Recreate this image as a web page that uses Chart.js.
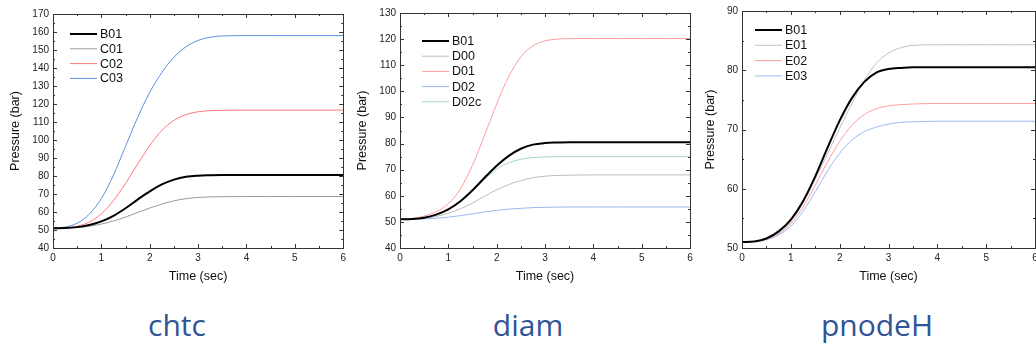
<!DOCTYPE html>
<html><head><meta charset="utf-8">
<script src="https://cdn.jsdelivr.net/npm/chart.js@4"></script>
<style>
html,body{margin:0;padding:0;background:#fff;overflow:hidden;width:1036px;height:348px;position:relative}
.box{position:absolute;top:0;height:290px}
.lbl{position:absolute;top:304px;font-family:"Liberation Sans Narrow","Open Sans",sans-serif;font-size:30px;color:#2f5597;transform:translateX(-50%);white-space:nowrap}
</style></head>
<body>
<div class="box" style="left:0;width:350px"><canvas id="c1" width="350" height="290"></canvas></div>
<div class="box" style="left:350px;width:350px"><canvas id="c2" width="350" height="290"></canvas></div>
<div class="box" style="left:700px;width:345px"><canvas id="c3" width="345" height="290"></canvas></div>
<div class="lbl" style="left:177px">chtc</div>
<div class="lbl" style="left:528px">diam</div>
<div class="lbl" style="left:877px">pnodeH</div>
<script>
// ---- data ----
const times = [0,0.25,0.5,0.75,1,1.25,1.5,1.75,2,2.25,2.5,2.75,3,3.25,3.5,4,4.5,5,5.5,6];
const B01 = [51,51.1,51.6,52.8,54.8,57.9,62.1,66.9,71.5,75.3,78.0,79.6,80.2,80.4,80.5,80.5,80.5,80.5,80.5,80.5];
// chtc
const C01 = [51,51.1,51.4,52.1,53.3,55.0,57.2,59.7,62.2,64.4,66.2,67.4,68.1,68.4,68.5,68.6,68.6,68.6,68.6,68.6];
const C02 = [51,51.2,52.1,54.4,59.0,66.4,75.9,86.6,96.9,105.3,110.9,114.1,115.7,116.3,116.5,116.6,116.6,116.6,116.6,116.6];
const C03 = [51,51.6,53.8,58.8,67.5,80.5,96.5,112.5,126.5,137.5,146.0,151.8,155.3,157.1,157.8,158,158,158,158,158];
// diam
const D00 = [51,51.1,51.4,52.1,53.3,55.0,57.2,59.8,62.3,64.3,65.8,66.9,67.5,67.8,67.9,68,68,68,68,68];
const D01 = [51,51.3,52.2,53.9,56.9,62.7,71.7,83.2,95.2,105.7,113.2,117.4,119.3,120.0,120.2,120.2,120.2,120.2,120.2,120.2];
const D02 = [51,51,51.1,51.4,51.8,52.4,53.1,53.8,54.4,54.9,55.2,55.45,55.6,55.65,55.7,55.7,55.7,55.7,55.7,55.7];
const D02c = [51,51.1,51.6,52.8,54.8,57.9,62.0,66.4,70.2,72.6,74.0,74.6,74.9,75.0,75.0,75,75,75,75,75];
// pnodeH
const E01 = [51,51.1,51.6,52.6,54.4,57.6,61.6,65.9,70.2,74.4,78.2,81.2,82.9,83.8,84.2,84.3,84.3,84.3,84.3,84.3];
const E02 = [51,51.1,51.5,52.4,54.1,56.9,60.6,64.5,68.0,70.7,72.5,73.5,74.0,74.2,74.3,74.4,74.4,74.4,74.4,74.4];
const E03 = [51,51.1,51.4,52.2,53.7,56.2,59.5,63.0,66.0,68.2,69.6,70.4,70.9,71.2,71.3,71.4,71.4,71.4,71.4,71.4];
const xTicks = [0,1,2,3,4,5,6];

const FONT = '"Liberation Sans", Arial, sans-serif';

function pts(arr){ return arr.map((v,i)=>({x:times[i], y:v})); }

const framePlugin = {
  id:'frame',
  afterDraw(chart){
    const ctx = chart.ctx, a = chart.chartArea;
    const xs = chart.scales.x, ys = chart.scales.y;
    ctx.save();
    ctx.strokeStyle = '#333';
    ctx.lineWidth = 1;
    ctx.strokeRect(Math.round(a.left)+0.5, Math.round(a.top)+0.5, Math.round(a.right-a.left), Math.round(a.bottom-a.top));
    ctx.beginPath();
    const ystep = 10, ymin = ys.min, ymax = ys.max;
    for(let v=ymin; v<=ymax+1e-6; v+=ystep/2){
      const y = Math.round(ys.getPixelForValue(v))+0.5;
      const major = Math.abs((v-ymin)%ystep) < 1e-6;
      const L = major ? 4 : 2;
      ctx.moveTo(a.left, y); ctx.lineTo(a.left+L, y);
      ctx.moveTo(a.right, y); ctx.lineTo(a.right-L, y);
    }
    for(let v=xs.min; v<=xs.max+1e-6; v+=0.5){
      const x = Math.round(xs.getPixelForValue(v))+0.5;
      const major = Math.abs(v-Math.round(v)) < 1e-6;
      const L = major ? 4 : 2;
      ctx.moveTo(x, a.bottom); ctx.lineTo(x, a.bottom-L);
      ctx.moveTo(x, a.top); ctx.lineTo(x, a.top+L);
    }
    ctx.stroke();
    ctx.restore();
  }
};

const legendPlugin = {
  id:'inlegend',
  afterDatasetsDraw(chart, args, opts){
    const ctx = chart.ctx;
    ctx.save();
    ctx.font = '12.5px ' + FONT;
    ctx.textBaseline = 'middle';
    ctx.textAlign = 'left';
    chart.data.datasets.forEach((ds,i)=>{
      const y = opts.y + i*opts.gap;
      ctx.strokeStyle = ds.borderColor;
      ctx.lineWidth = ds.borderWidth;
      ctx.beginPath();
      ctx.moveTo(opts.x, y); ctx.lineTo(opts.x+opts.len, y);
      ctx.stroke();
      ctx.fillStyle = '#111';
      ctx.fillText(ds.label, opts.x+opts.len+3, y+0.5);
    });
    ctx.restore();
  }
};

function makeChart(id, series, cfg){
  return new Chart(document.getElementById(id), {
    type:'line',
    data:{ datasets: series.map(s=>({
      label:s.label, data:pts(s.data), borderColor:s.color, borderWidth:s.w||1,
      pointRadius:0, cubicInterpolationMode:'monotone', fill:false
    }))},
    options:{
      responsive:false, animation:false, devicePixelRatio:1,
      layout:{padding:{top:cfg.top, right:cfg.right, left:0, bottom:0}},
      plugins:{legend:{display:false}, tooltip:{enabled:false},
        inlegend:{x:cfg.lx, y:cfg.ly, gap:cfg.lg, len:27}},
      scales:{
        x:{type:'linear', min:0, max:6,
          afterBuildTicks(s){ s.ticks = xTicks.map(v=>({value:v})); },
          grid:{display:false, drawTicks:false}, border:{display:false},
          ticks:{font:{family:FONT,size:10}, color:'#222', padding:4, maxRotation:0},
          title:{display:true, text:'Time (sec)', font:{family:FONT,size:12.5}, color:'#111', padding:{top:0,bottom:6}},
          afterFit(s){ s.height = 42; }
        },
        y:{min:cfg.ymin, max:cfg.ymax,
          ticks:{stepSize:10, font:{family:FONT,size:10}, color:'#222', padding:4},
          grid:{display:false, drawTicks:false}, border:{display:false},
          title:{display:true, text:'Pressure (bar)', font:{family:FONT,size:12.5}, color:'#111', padding:{top:cfg.tp,bottom:0}},
          afterFit(s){ s.width = cfg.yw; }
        }
      }
    },
    plugins:[framePlugin, legendPlugin]
  });
}

makeChart('c1', [
  {label:'B01', data:B01, color:'#000', w:2},
  {label:'C01', data:C01, color:'#9a9a9a'},
  {label:'C02', data:C02, color:'#ff7878'},
  {label:'C03', data:C03, color:'#5c8fe2'}
], {top:14, right:6, yw:53, ymin:40, ymax:170, lx:70, ly:34, lg:14.8, tp:8});

makeChart('c2', [
  {label:'B01', data:B01, color:'#000', w:2},
  {label:'D00', data:D00, color:'#bdbdbd'},
  {label:'D01', data:D01, color:'#ff9c9c'},
  {label:'D02', data:D02, color:'#98b9f0'},
  {label:'D02c', data:D02c, color:'#a3d8bd'}
], {top:13, right:10, yw:50, ymin:40, ymax:130, lx:72, ly:41, lg:15.2, tp:5});

makeChart('c3', [
  {label:'B01', data:B01, color:'#000', w:2},
  {label:'E01', data:E01, color:'#c2c2c2'},
  {label:'E02', data:E02, color:'#ff9e9e'},
  {label:'E03', data:E03, color:'#99bcf3'}
], {top:11, right:10, yw:42, ymin:50, ymax:90, lx:55, ly:30, lg:15.3, tp:3});
</script>
</body></html>
